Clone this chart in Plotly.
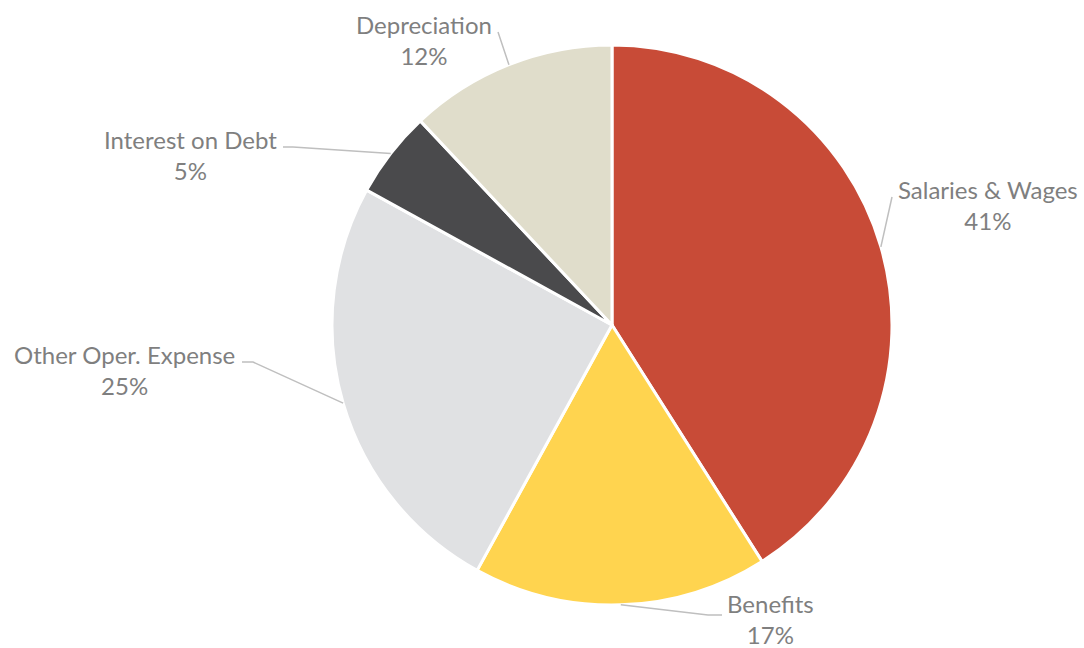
import math
import plotly.graph_objects as go

# ---- data ----
categories = ["Salaries & Wages", "Benefits", "Other Oper. Expense", "Interest on Debt", "Depreciation"]
values = [41, 17, 25, 5, 12]
colors = ["#C84B37", "#FFD44F", "#E0E1E3", "#4A4A4C", "#E0DDCB"]

# ---- layout (pixels in a 1084x648 page) ----
W, H = 1084, 648
CX, CY, R = 612, 325, 280
label_xy = [(988, 205), (770, 619), (124, 370), (190, 155), (424, 40)]
attach_xy = [(892, 197), (722, 615), (242, 362), (283, 147), (498, 32)]
elbow_dx = [0, -14, 11, 10, 0]

def px(x):
    return x / W

def py(y):
    return 1 - y / H

fig = go.Figure(go.Pie(
    labels=categories,
    values=values,
    sort=False,
    direction="clockwise",
    rotation=0,
    marker=dict(colors=colors, line=dict(color="white", width=3)),
    textinfo="none",
    hoverinfo="label+percent",
    domain=dict(x=[px(CX - R), px(CX + R)], y=[py(CY + R), py(CY - R)]),
    showlegend=False,
))

total = sum(values)
cum = 0
annotations = []
shapes = []
for i, (cat, v) in enumerate(zip(categories, values)):
    mid = (cum + v / 2) / total * 2 * math.pi
    cum += v
    sx = CX + R * math.sin(mid)
    sy = CY - R * math.cos(mid)
    ax, ay = attach_xy[i]
    ex = ax + elbow_dx[i]
    path = f"M {px(sx)},{py(sy)} L {px(ex)},{py(ay)} L {px(ax)},{py(ay)}"
    shapes.append(dict(type="path", xref="paper", yref="paper", path=path,
                       line=dict(color="#BFBFBF", width=1.5)))
    lx, ly = label_xy[i]
    pct = round(v / total * 100)
    annotations.append(dict(
        x=px(lx), y=py(ly), xref="paper", yref="paper",
        text=f"{cat}<br>{pct}%", showarrow=False,
        xanchor="center", yanchor="middle", align="center",
        font=dict(family="Lato", size=24, color="#7F7F7F"),
    ))

fig.update_layout(
    width=W, height=H,
    margin=dict(l=0, r=0, t=0, b=0),
    paper_bgcolor="white",
    plot_bgcolor="white",
    shapes=shapes,
    annotations=annotations,
)

fig.write_html(
    "out.html",
    config={"displayModeBar": False},
    post_script="document.body.style.margin='0';document.body.style.overflow='hidden';",
)
